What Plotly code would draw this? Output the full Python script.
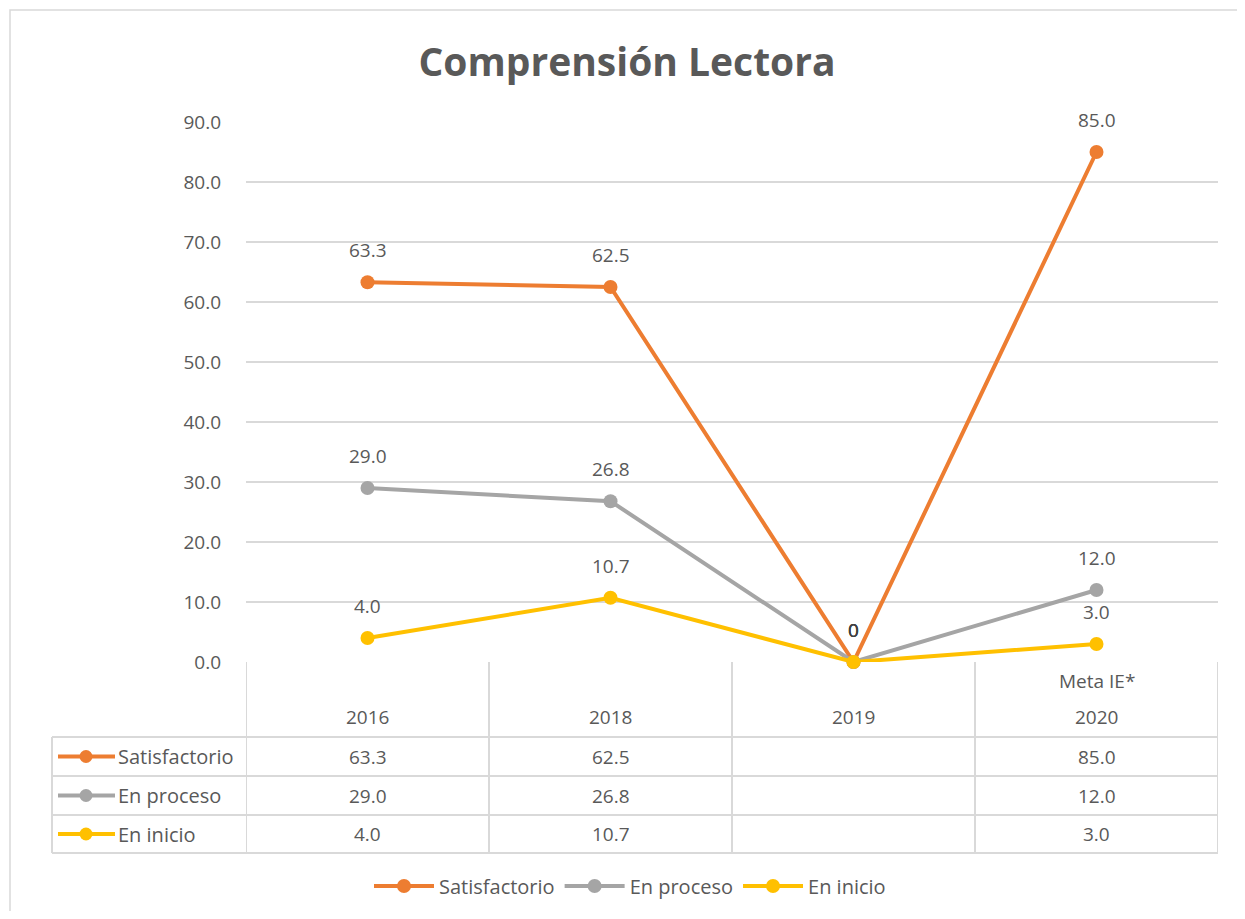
import plotly.graph_objects as go

categories = ["2016", "2018", "2019", "2020"]
category_notes = ["", "", "", "Meta IE*"]
series_names = ["Satisfactorio", "En proceso", "En inicio"]
satisfactorio = [63.3, 62.5, 0, 85.0]
en_proceso = [29.0, 26.8, 0, 12.0]
en_inicio = [4.0, 10.7, 0, 3.0]
y_ticks = [0, 10, 20, 30, 40, 50, 60, 70, 80, 90]

series_values = [satisfactorio, en_proceso, en_inicio]
colors = ["#ED7D31", "#A5A5A5", "#FFC000"]

OFF = 8  # page body margin in the browser
W, H = 1245 - 2 * OFF, 919 - 2 * OFF
PL, PR, PT, PB = 246, 1218, 122, 662  # plot area in screen pixels
FONT = "Open Sans"
FS = 19
FSN = 20
TXT = "#595959"
GRID = "#D9D9D9"


def xp(px):
    return (px - PL) / (PR - PL)


def yp(py):
    return (PB - py) / (PB - PT)


def fmt(v):
    return f"{v:.1f}" if v != 0 else "0"


fig = go.Figure()
xs = list(range(len(categories)))
for name, vals, col in zip(series_names, series_values, colors):
    fig.add_trace(go.Scatter(
        x=xs, y=vals, name=name, mode="lines+markers",
        line=dict(color=col, width=4),
        marker=dict(color=col, size=14),
        cliponaxis=False,
    ))

annotations = []
shapes = []

# data labels
for vals in series_values:
    for i, v in enumerate(vals):
        annotations.append(dict(
            x=i, y=v, xref="x", yref="y", text=fmt(v), showarrow=False,
            yshift=32, xanchor="center", yanchor="middle",
            font=dict(family=FONT, size=FS, color="#404040" if v == 0 else TXT),
        ))

# table header
for i, (c, note) in enumerate(zip(categories, category_notes)):
    annotations.append(dict(x=i, y=yp(717), xref="x", yref="paper", text=c,
                            showarrow=False, xanchor="center", yanchor="middle",
                            font=dict(family=FONT, size=FS, color=TXT)))
    if note:
        annotations.append(dict(x=i, y=yp(681), xref="x", yref="paper", text=note,
                                showarrow=False, xanchor="center", yanchor="middle",
                                font=dict(family=FONT, size=FS, color=TXT)))

# table rows
row_bounds = [737, 776, 815, 853]
for r, (name, vals, col) in enumerate(zip(series_names, series_values, colors)):
    yc = (row_bounds[r] + row_bounds[r + 1]) / 2
    annotations.append(dict(x=xp(116), y=yp(yc), xref="paper", yref="paper", text=name,
                            showarrow=False, xanchor="left", yanchor="middle",
                            font=dict(family=FONT, size=FSN, color=TXT)))
    shapes.append(dict(type="line", xref="paper", yref="paper",
                       x0=xp(58), x1=xp(115), y0=yp(yc), y1=yp(yc),
                       line=dict(color=col, width=4)))
    shapes.append(dict(type="circle", xref="paper", yref="paper",
                       xsizemode="pixel", ysizemode="pixel",
                       xanchor=xp(86), yanchor=yp(yc),
                       x0=-6.5, x1=6.5, y0=-6.5, y1=6.5,
                       fillcolor=col, line=dict(color=col, width=0)))
    for i, v in enumerate(vals):
        annotations.append(dict(x=i, y=yp(yc), xref="x", yref="paper",
                                text=f"{v:.1f}" if v != 0 else "",
                                showarrow=False, xanchor="center", yanchor="middle",
                                font=dict(family=FONT, size=FS, color=TXT)))

# table grid lines
for yb in row_bounds:
    shapes.append(dict(type="line", xref="paper", yref="paper", x0=xp(52), x1=1,
                       y0=yp(yb), y1=yp(yb), line=dict(color=GRID, width=2)))
shapes.append(dict(type="line", xref="paper", yref="paper", x0=xp(52), x1=xp(52),
                   y0=yp(737), y1=yp(853), line=dict(color=GRID, width=2)))
for k in range(len(categories) + 1):
    shapes.append(dict(type="line", xref="x", yref="paper", x0=k - 0.5, x1=k - 0.5,
                       y0=0, y1=yp(853), line=dict(color=GRID, width=2)))

# outer chart border
shapes.append(dict(type="rect", xref="paper", yref="paper",
                   x0=xp(10), x1=xp(1300), y0=yp(10), y1=yp(1000),
                   line=dict(color=GRID, width=1.5), layer="below"))

fig.update_layout(
    width=W, height=H,
    margin=dict(l=PL - OFF, r=W - (PR - OFF), t=PT - OFF, b=H - (PB - OFF), pad=0,
                autoexpand=False),
    paper_bgcolor="white", plot_bgcolor="white",
    title=dict(text="<b>Comprensión Lectora</b>", xref="container",
               x=(627 - OFF) / W, xanchor="center",
               yref="container", y=1 - (62 - OFF) / H, yanchor="middle",
               font=dict(family=FONT, size=39, color=TXT)),
    xaxis=dict(range=[-0.5, len(categories) - 0.5], showticklabels=False,
               showgrid=False, zeroline=False, showline=False, ticks="",
               fixedrange=True),
    yaxis=dict(range=[0, 90], tickvals=y_ticks, tickformat=".1f",
               showgrid=True, gridcolor=GRID, gridwidth=1.5, zeroline=False,
               showline=False, ticks="", ticklabelstandoff=24,
               tickfont=dict(family=FONT, size=FS, color=TXT)),
    showlegend=True,
    legend=dict(orientation="h", xref="container", x=(630 - OFF) / W, xanchor="center",
                yref="container", y=1 - (886 - OFF) / H, yanchor="middle",
                font=dict(family=FONT, size=FSN, color=TXT),
                itemwidth=60, bgcolor="rgba(0,0,0,0)"),
    annotations=annotations,
    shapes=shapes,
)

fig.write_html("out.html")
